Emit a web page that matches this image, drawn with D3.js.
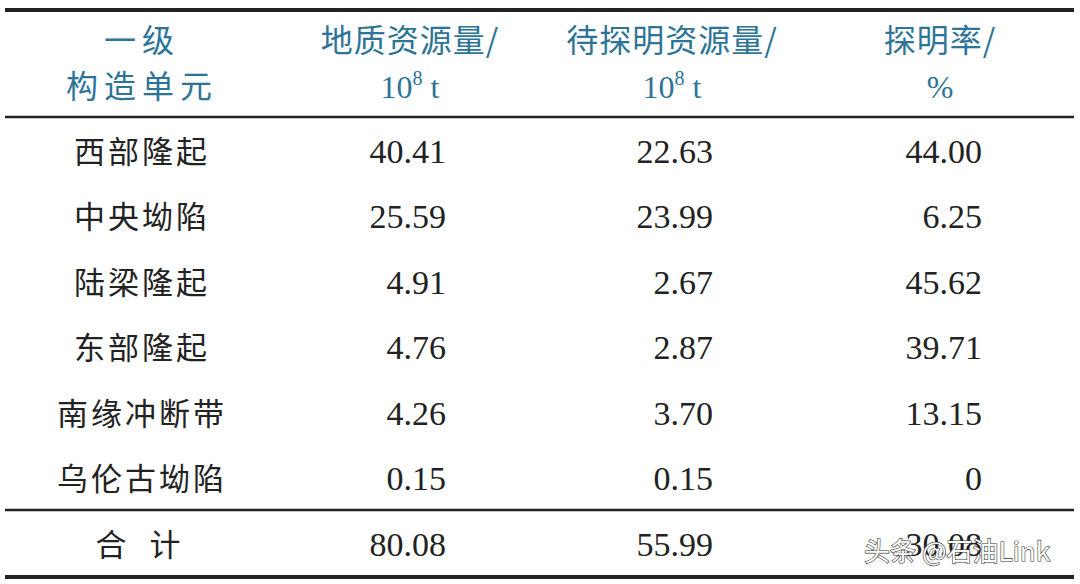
<!DOCTYPE html>
<html><head><meta charset="utf-8">
<script src="https://cdn.jsdelivr.net/npm/d3@7"></script>
<style>body{margin:0;background:#fff}</style>
</head><body>
<svg id="c" width="1080" height="584"></svg>
<script>
const headers = [["一级", "构造单元"], ["地质资源量/", "10|8| t"], ["待探明资源量/", "10|8| t"], ["探明率/", "%"]];
const units = ["西部隆起", "中央坳陷", "陆梁隆起", "东部隆起", "南缘冲断带", "乌伦古坳陷"];
const geoRes = ["40.41", "25.59", "4.91", "4.76", "4.26", "0.15"];
const undiscovered = ["22.63", "23.99", "2.67", "2.87", "3.70", "0.15"];
const provenRate = ["44.00", "6.25", "45.62", "39.71", "13.15", "0"];
const total = ["合 计", "80.08", "55.99", "30.08"];

const svg = d3.select("#c");
const teal = "#2d7497";
const serif = "'Liberation Serif','DejaVu Serif',serif";
const cjk = "'Noto Sans CJK SC',sans-serif";

const colX = [142, 410, 672, 940];     // header / text centres
const numRight = [null, 446, 713, 982]; // right edge of numbers
const rowY = d3.scalePoint().domain(d3.range(units.length)).range([151, 478]);

// rules
svg.append("line").attr("x1", 5).attr("x2", 1074).attr("y1", 10).attr("y2", 10).attr("stroke", "#222").attr("stroke-width", 4);
svg.append("line").attr("x1", 5).attr("x2", 1074).attr("y1", 117).attr("y2", 117).attr("stroke", "#222").attr("stroke-width", 2.5);
svg.append("line").attr("x1", 5).attr("x2", 1074).attr("y1", 510).attr("y2", 510).attr("stroke", "#222").attr("stroke-width", 2.5);
svg.append("line").attr("x1", 5).attr("x2", 1074).attr("y1", 577).attr("y2", 577).attr("stroke", "#222").attr("stroke-width", 4);

// header
headers.forEach((h, i) => {
  h.forEach((line, j) => {
    const t = svg.append("text").attr("x", colX[i]).attr("y", 52 + j * 46)
      .attr("text-anchor", "middle").attr("fill", teal).attr("font-size", 32);
    if (line.includes("|")) {
      const [a, b, c] = line.split("|");
      t.attr("font-family", serif);
      t.append("tspan").text(a);
      t.append("tspan").text(b).attr("font-size", 20).attr("dy", -13);
      t.append("tspan").text(c).attr("dy", 13);
    } else if (line === "%") {
      t.attr("font-family", serif).text(line);
    } else {
      t.attr("font-family", cjk).attr("letter-spacing", i === 0 ? 6 : 1).text(line);
    }
  });
});

// body
const cols = [geoRes, undiscovered, provenRate];
units.forEach((u, r) => {
  const y = rowY(r) + 12;
  svg.append("text").attr("x", colX[0]).attr("y", y).attr("text-anchor", "middle")
    .attr("font-family", cjk).attr("font-size", 31).attr("letter-spacing", 3).attr("fill", "#222").text(u);
  cols.forEach((c, k) => {
    svg.append("text").attr("x", numRight[k + 1]).attr("y", y).attr("text-anchor", "end")
      .attr("font-family", serif).attr("font-size", 34).attr("fill", "#222").text(c[r]);
  });
});

// total
svg.append("text").attr("x", colX[0]).attr("y", 556).attr("text-anchor", "middle")
  .attr("font-family", cjk).attr("font-size", 31).attr("letter-spacing", 8).attr("fill", "#222").text(total[0]);
total.slice(1).forEach((v, k) => {
  svg.append("text").attr("x", numRight[k + 1]).attr("y", 556).attr("text-anchor", "end")
    .attr("font-family", serif).attr("font-size", 34).attr("fill", "#222").text(v);
});

// watermark
svg.append("text").attr("x", 1050).attr("y", 561).attr("text-anchor", "end")
  .attr("font-family", cjk).attr("font-size", 26).attr("fill", "#fff")
  .attr("stroke", "#333").attr("stroke-width", 1.2).attr("paint-order", "stroke")
  .text("头条 @石油Link");
</script>
</body></html>
